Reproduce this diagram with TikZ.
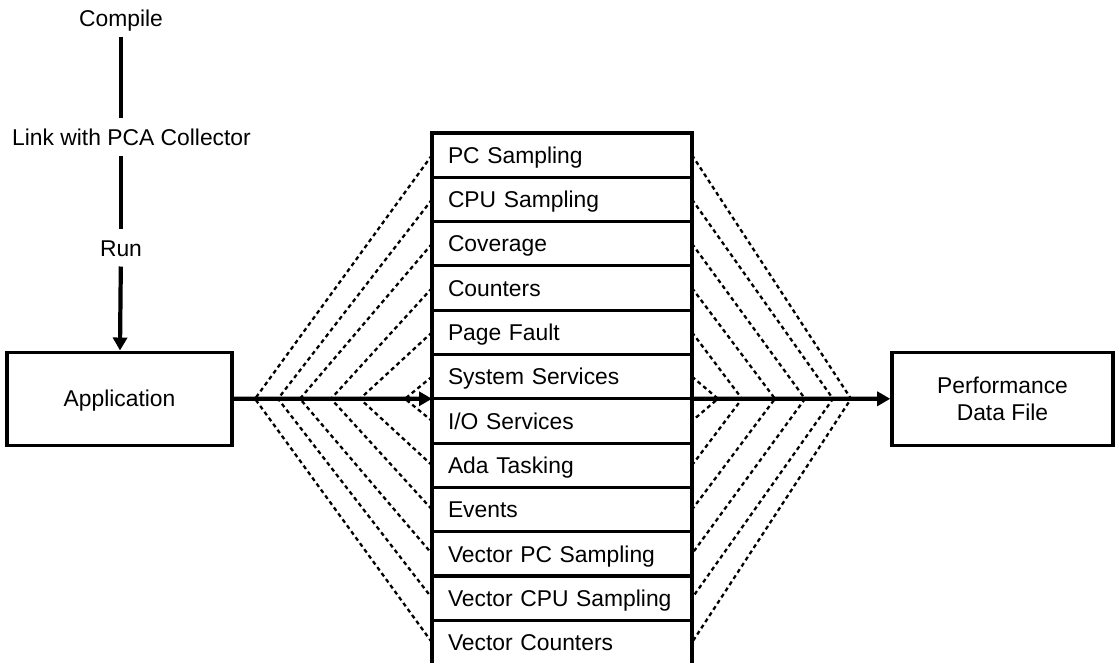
\documentclass[tikz,border=0pt]{standalone}
\usepackage{fontspec}
\setmainfont{Liberation Sans}
\usetikzlibrary{arrows.meta, positioning}

\begin{document}
\begin{tikzpicture}[
  every node/.style={font=\fontsize{13}{15.6}\selectfont},
  blockbox/.style={draw, line width=2pt, minimum height=1.86cm, align=center},
  rowbox/.style={draw, line width=1.8pt, outer sep=0pt, inner xsep=0.32cm, inner ysep=0pt,
                 text width=4.56cm, minimum height=0.886cm, text height=9.3pt, text depth=0pt, align=left},
  stagelabel/.style={inner sep=0.2cm, text height=9.3pt, text depth=0pt},
  stageline/.style={line width=2pt},
  flowarrow/.style={line width=2.4pt, -{Triangle[length=0.26cm, width=0.28cm]}},
  fanline/.style={line width=1.3pt, dash pattern=on 2.3pt off 1.9pt}
]
  \useasboundingbox (0,0) rectangle (22.3,13.26);

  % build steps
  \node[stagelabel] (compile) at (2.42, 12.9) {Compile};
  \node[stagelabel] (linkpca) at (2.63, 10.52) {Link with PCA Collector};
  \node[stagelabel] (run) at (2.42, 8.3) {Run};

  \node[blockbox, minimum width=4.5cm, text height=9.3pt, text depth=0pt] (app) at (2.39, 5.284) {Application};
  \node[blockbox, minimum width=4.42cm] (perf) at (20.05, 5.284) {Performance\\Data File};

  % collector column
  \node[rowbox] (r1) at (11.24, 10.157) {PC Sampling};
  \node[rowbox, below=0pt of r1] (r2) {CPU Sampling};
  \node[rowbox, below=0pt of r2] (r3) {Coverage};
  \node[rowbox, below=0pt of r3] (r4) {Counters};
  \node[rowbox, below=0pt of r4] (r5) {Page Fault};
  \node[rowbox, below=0pt of r5] (r6) {System Services};
  \node[rowbox, below=0pt of r6] (r7) {I/O Services};
  \node[rowbox, below=0pt of r7] (r8) {Ada Tasking};
  \node[rowbox, below=0pt of r8] (r9) {Events};
  \node[rowbox, below=0pt of r9] (r10) {Vector PC Sampling};
  \node[rowbox, below=0pt of r10] (r11) {Vector CPU Sampling};
  \node[rowbox, below=0pt of r11] (r12) {Vector Counters};

  % fan points on the arrows
  \coordinate (fl1) at (5.10, 5.284);
  \coordinate (fl2) at (5.56, 5.284);
  \coordinate (fl3) at (6.00, 5.284);
  \coordinate (fl4) at (6.62, 5.284);
  \coordinate (fl5) at (7.20, 5.284);
  \coordinate (fl6) at (8.10, 5.284);
  \coordinate (fr1) at (17.02, 5.284);
  \coordinate (fr2) at (16.66, 5.284);
  \coordinate (fr3) at (16.10, 5.284);
  \coordinate (fr4) at (15.50, 5.284);
  \coordinate (fr5) at (14.84, 5.284);
  \coordinate (fr6) at (14.36, 5.284);

  \draw[fanline] (r1.west) -- (fl1) -- (r12.west);
  \draw[fanline] (r2.west) -- (fl2) -- (r11.west);
  \draw[fanline] (r3.west) -- (fl3) -- (r10.west);
  \draw[fanline] (r4.west) -- (fl4) -- (r9.west);
  \draw[fanline] (r5.west) -- (fl5) -- (r8.west);
  \draw[fanline] (r6.west) -- (fl6) -- (r7.west);
  \draw[fanline] (r1.east) -- (fr1) -- (r12.east);
  \draw[fanline] (r2.east) -- (fr2) -- (r11.east);
  \draw[fanline] (r3.east) -- (fr3) -- (r10.east);
  \draw[fanline] (r4.east) -- (fr4) -- (r9.east);
  \draw[fanline] (r5.east) -- (fr5) -- (r8.east);
  \draw[fanline] (r6.east) -- (fr6) -- (r7.east);

  \draw[stageline] (compile) -- (compile |- linkpca.north);
  \draw[stageline] (compile |- linkpca.south) -- (run);
  \draw[flowarrow] (run) -- (app);
  \draw[flowarrow] (app.east) -- (r6.south west);
  \draw[flowarrow] (r6.south east) -- (perf.west);

\end{tikzpicture}
\end{document}
